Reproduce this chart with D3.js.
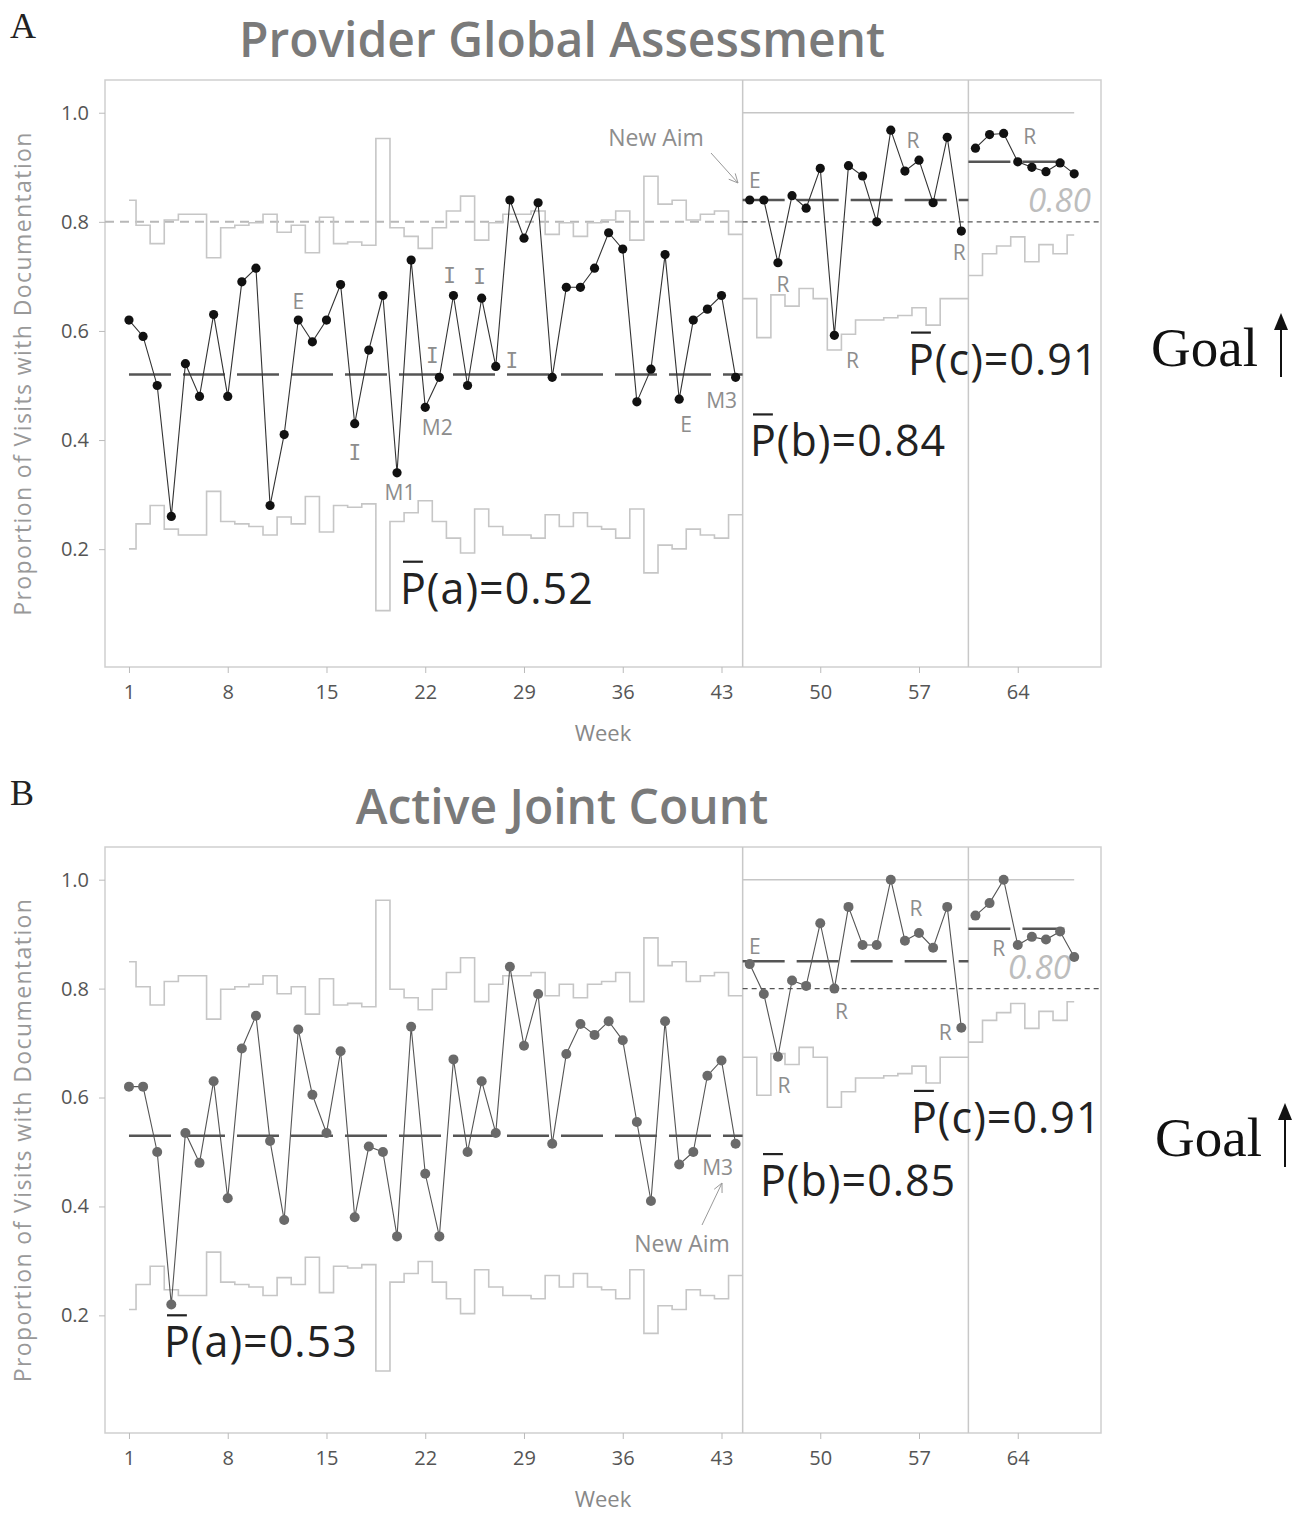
<!DOCTYPE html>
<html>
<head>
<meta charset="utf-8">
<script src="https://cdn.jsdelivr.net/npm/d3@7/dist/d3.min.js"></script>
<style>
  body { margin: 0; background: #fff; }
  svg { display: block; }
  text { font-family: "Open Sans", "Noto Sans", sans-serif; }
</style>
</head>
<body>
<div id="chart"></div>
<script>
// ---- data ----
var weeks = [1,2,3,4,5,6,7,8,9,10,11,12,13,14,15,16,17,18,19,20,21,22,23,24,25,26,27,28,29,30,
  31,32,33,34,35,36,37,38,39,40,41,42,43,44,45,46,47,48,49,50,51,52,53,54,55,56,57,58,59,60,
  61,62,63,64,65,66,67,68];

var phaseNames = ["a", "b", "c"];
var phaseFirstWeek = [1, 45, 61];
var phaseLastWeek = [44, 60, 68];

// visits per week (sample size behind each proportion)
var visits = [22,30,39,28,26,26,49,31,30,29,26,33,30,45,27,39,38,40,12,31,
  35,42,31,25,21,37,29,26,26,25,34,29,35,29,28,25,37,17,23,22,28,26,25,34,
  37,19,40,32,46,37,16,20,25,25,26,27,31,23,37,37,
  17,26,31,39,22,32,26,41];

var pgaValues = [0.62,0.59,0.50,0.26,0.54,0.48,0.63,0.48,0.69,0.715,
  0.28,0.41,0.62,0.58,0.62,0.685,0.43,0.565,0.665,0.34,
  0.73,0.46,0.515,0.665,0.50,0.66,0.535,0.84,0.77,0.835,
  0.515,0.68,0.68,0.715,0.78,0.75,0.47,0.53,0.74,0.475,
  0.62,0.64,0.665,0.515,
  0.84,0.84,0.725,0.848,0.825,0.898,0.592,0.903,0.884,0.80,0.968,0.893,0.913,0.835,0.955,0.783,
  0.935,0.96,0.962,0.91,0.90,0.892,0.908,0.888];

var ajcValues = [0.62,0.62,0.50,0.22,0.535,0.48,0.63,0.415,0.69,0.75,
  0.52,0.375,0.725,0.605,0.535,0.685,0.38,0.51,0.50,0.345,
  0.73,0.46,0.345,0.67,0.50,0.63,0.535,0.84,0.695,0.79,
  0.515,0.68,0.735,0.715,0.74,0.705,0.555,0.41,0.74,0.477,
  0.50,0.64,0.668,0.515,
  0.845,0.79,0.675,0.815,0.805,0.92,0.80,0.95,0.88,0.88,1.0,0.888,0.902,0.875,0.95,0.728,
  0.934,0.957,1.0,0.88,0.895,0.89,0.905,0.858];

var pgaCenter = [0.52, 0.84, 0.91];
var ajcCenter = [0.53, 0.85, 0.91];
var goal = 0.80;

var xTicks = [1, 8, 15, 22, 29, 36, 43, 50, 57, 64];
var yTicks = [0.2, 0.4, 0.6, 0.8, 1.0];

var pgaMarks = [[13,"E"],[17,"I"],[20,"M1"],[22,"M2"],[23,"I"],[24,"I"],[26,"I"],[27,"I"],
  [40,"E"],[44,"M3"],[45,"E"],[47,"R"],[51,"R"],[56,"R"],[60,"R"],[64,"R"]];
var ajcMarks = [[44,"M3"],[45,"E"],[47,"R"],[51,"R"],[56,"R"],[60,"R"],[64,"R"]];

// ---- layout ----
var W = 1303, H = 1518;
var svg = d3.select("#chart").append("svg")
    .attr("width", W)
    .attr("height", H);
svg.append("rect").attr("width", W).attr("height", H).attr("fill", "#fff");

var x = d3.scaleLinear().domain([-0.7, 69.9]).range([105, 1101]);

// pixel offsets of the little letters from their point
var pgaMarkOffsets = [[0,-19],[0,29],[3,20],[12,20],[-7,-22],[-4,-20],[-2,-22],[16,-6],
  [7,25],[-14,23],[5,-20],[5,22],[18,25],[8,-31],[-2,21],[12,-25]];
var ajcMarkOffsets = [[-18,24],[5,-18],[6,29],[7,23],[11,-32],[-16,5],[-19,3]];

function limits(p, n) {
  var h = 3 * Math.sqrt(p * (1 - p) / n);
  return [Math.max(0, p - h), Math.min(1, p + h)];
}

function drawPanel(cfg) {
  var g = svg.append("g");
  var y = d3.scaleLinear().domain([-0.016, 1.06]).range([cfg.bottom, cfg.top]);
  var lastPhase = phaseNames.length - 1;

  // frame
  g.append("rect")
    .attr("x", 105).attr("y", cfg.top)
    .attr("width", 996).attr("height", cfg.bottom - cfg.top)
    .attr("fill", "none").attr("stroke", "#cfcfcf").attr("stroke-width", 1.5);

  // stage dividers
  for (var k = 1; k < phaseNames.length; k++) {
    g.append("line")
      .attr("x1", x(phaseFirstWeek[k] - 0.5)).attr("x2", x(phaseFirstWeek[k] - 0.5))
      .attr("y1", cfg.top).attr("y2", cfg.bottom)
      .attr("stroke", "#c8c8c8").attr("stroke-width", 1.5);
  }

  // axes
  var yAxis = d3.axisLeft(y).tickValues(yTicks).tickFormat(d3.format(".1f"))
    .tickSize(6).tickPadding(10).tickSizeOuter(0);
  var ya = g.append("g").attr("transform", "translate(105,0)").call(yAxis);
  var xAxis = d3.axisBottom(x).tickValues(xTicks).tickSize(6).tickPadding(12).tickSizeOuter(0);
  var xa = g.append("g").attr("transform", "translate(0," + cfg.bottom + ")").call(xAxis);
  [ya, xa].forEach(function(a) {
    a.select(".domain").remove();
    a.selectAll("line").attr("stroke", "#bbb");
    a.selectAll("text").attr("fill", "#555").style("font-size", "20px")
      .style("font-family", "'Open Sans', sans-serif");
  });

  g.append("text")
    .attr("x", 603).attr("y", cfg.bottom + 74)
    .attr("text-anchor", "middle").attr("fill", "#888")
    .style("font-size", "22px").text("Week");
  g.append("text")
    .attr("transform", "translate(31," + ((cfg.top + cfg.bottom) / 2) + ") rotate(-90)")
    .attr("text-anchor", "middle").attr("fill", "#999")
    .style("font-size", "23px").style("letter-spacing", "1.4px")
    .text("Proportion of Visits with Documentation");

  // title + panel letter
  g.append("text")
    .attr("x", 562).attr("y", cfg.top - 23)
    .attr("text-anchor", "middle").attr("fill", "#7a7a7a")
    .style("font-size", "48px").style("font-weight", 600)
    .text(cfg.title);
  g.append("text")
    .attr("x", 10).attr("y", cfg.top - 42)
    .attr("fill", "#222")
    .style("font-family", "'Liberation Serif', serif").style("font-size", "36px")
    .text(cfg.letter);

  // goal line
  if (cfg.goalInStageA) {
    g.append("line")
      .attr("x1", 105).attr("x2", x(phaseFirstWeek[1] - 0.5))
      .attr("y1", y(goal)).attr("y2", y(goal))
      .attr("stroke", "#b8b8b8").attr("stroke-width", 2).attr("stroke-dasharray", "9,6");
  }
  g.append("line")
    .attr("x1", x(phaseFirstWeek[1] - 0.5)).attr("x2", 1101)
    .attr("y1", y(goal)).attr("y2", y(goal))
    .attr("stroke", "#555").attr("stroke-width", 1.2).attr("stroke-dasharray", "5,4");
  g.append("text")
    .attr("x", cfg.goalLabelX).attr("y", y(goal + 0.018))
    .attr("fill", "#bdbdbd").style("font-size", "33px").style("font-style", "italic")
    .text(d3.format(".2f")(goal));

  var line = d3.line().x(function(d) { return x(d[0]); }).y(function(d) { return y(d[1]); });

  phaseNames.forEach(function(name, k) {
    var first = phaseFirstWeek[k], last = phaseLastWeek[k];
    var p = cfg.center[k];
    var lo = [], hi = [];
    for (var w = first; w <= last; w++) {
      var x0 = (w === first && k === 0) ? w : w - 0.5;
      var x1 = (w === last && k === lastPhase) ? w : w + 0.5;
      var lim = limits(p, visits[w - 1]);
      lo.push([x0, lim[0]], [x1, lim[0]]);
      hi.push([x0, lim[1]], [x1, lim[1]]);
    }
    [lo, hi].forEach(function(pts) {
      g.append("path").attr("d", line(pts))
        .attr("fill", "none").attr("stroke", "#c6c6c6").attr("stroke-width", 1.6);
    });

    // center line
    var cx0 = k === 0 ? first : first - 0.5;
    var cx1 = k === lastPhase ? last : last + 0.5;
    g.append("line")
      .attr("x1", x(cx0)).attr("x2", x(cx1))
      .attr("y1", y(p)).attr("y2", y(p))
      .attr("stroke", "#555").attr("stroke-width", 2.5)
      .attr("stroke-dasharray", "42,12");

    // data line + points
    var data = weeks.slice(first - 1, last).map(function(w) { return [w, cfg.values[w - 1]]; });
    g.append("path").attr("d", line(data))
      .attr("fill", "none").attr("stroke", cfg.lineColor).attr("stroke-width", 1.1);
    g.selectAll(null).data(data).enter().append("circle")
      .attr("cx", function(d) { return x(d[0]); })
      .attr("cy", function(d) { return y(d[1]); })
      .attr("r", cfg.r)
      .attr("fill", cfg.pointColor);

    // P-bar label
    var pos = cfg.pbarPos[k];
    var t = g.append("text")
      .attr("x", pos[0]).attr("y", y(pos[1]))
      .attr("fill", "#222").style("font-size", "43px").style("letter-spacing", "1px")
      .text("P(" + name + ")=" + d3.format(".2f")(p));
    var ext = t.node().getExtentOfChar(0);
    g.append("line")
      .attr("x1", ext.x + 3).attr("x2", ext.x + ext.width - 4)
      .attr("y1", y(pos[1]) - 42).attr("y2", y(pos[1]) - 42)
      .attr("stroke", "#222").attr("stroke-width", 2.2);
  });

  // little rule letters
  cfg.marks.forEach(function(m, i) {
    var off = cfg.markOffsets[i];
    g.append("text")
      .attr("x", x(m[0]) + off[0]).attr("y", y(cfg.values[m[0] - 1]) + off[1])
      .attr("dy", "0.36em")
      .attr("text-anchor", "middle").attr("fill", "#8d8d8d")
      .style("font-size", "21px")
      .style("font-family", m[1] === "I" ? "'DejaVu Sans Mono', monospace" : null)
      .text(m[1]);
  });

  // "New Aim" note with an arrow
  var na = cfg.newAim;
  g.append("text")
    .attr("x", na.tx).attr("y", na.ty).attr("dy", "0.36em")
    .attr("text-anchor", "middle").attr("fill", "#8d8d8d")
    .style("font-size", "23px").text("New Aim");
  g.append("line")
    .attr("x1", na.from[0]).attr("y1", na.from[1])
    .attr("x2", na.to[0]).attr("y2", na.to[1])
    .attr("stroke", "#999").attr("stroke-width", 1);
  var ang = Math.atan2(na.to[1] - na.from[1], na.to[0] - na.from[0]);
  [-0.45, 0.45].forEach(function(a) {
    g.append("line")
      .attr("x1", na.to[0]).attr("y1", na.to[1])
      .attr("x2", na.to[0] - 10 * Math.cos(ang + a))
      .attr("y2", na.to[1] - 10 * Math.sin(ang + a))
      .attr("stroke", "#999").attr("stroke-width", 1);
  });

  // Goal with upward arrow
  g.append("text")
    .attr("x", cfg.goalText[0]).attr("y", cfg.goalText[1])
    .attr("fill", "#111")
    .style("font-family", "'Liberation Serif', serif").style("font-size", "55px")
    .text("Goal");
  var ax = cfg.goalText[0] + 130;
  g.append("line")
    .attr("x1", ax).attr("x2", ax)
    .attr("y1", cfg.goalText[1] + 11).attr("y2", cfg.goalText[1] - 38)
    .attr("stroke", "#111").attr("stroke-width", 2);
  g.append("path")
    .attr("d", "M" + ax + "," + (cfg.goalText[1] - 53) +
      "L" + (ax - 7) + "," + (cfg.goalText[1] - 36) +
      "L" + (ax + 7) + "," + (cfg.goalText[1] - 36) + "Z")
    .attr("fill", "#111");
}

drawPanel({
  letter: "A", title: "Provider Global Assessment",
  top: 80, bottom: 667,
  values: pgaValues, center: pgaCenter,
  pointColor: "#111", lineColor: "#333", r: 4.6,
  goalInStageA: true, goalLabelX: 1028,
  pbarPos: [[400, 0.10], [750, 0.37], [908, 0.52]],
  marks: pgaMarks, markOffsets: pgaMarkOffsets,
  newAim: { tx: 656, ty: 138, from: [711, 153], to: [738, 183] },
  goalText: [1151, 366]
});

drawPanel({
  letter: "B", title: "Active Joint Count",
  top: 847, bottom: 1433,
  values: ajcValues, center: ajcCenter,
  pointColor: "#6a6a6a", lineColor: "#555", r: 5,
  goalInStageA: false, goalLabelX: 1008,
  pbarPos: [[164, 0.123], [760, 0.419], [911, 0.535]],
  marks: ajcMarks, markOffsets: ajcMarkOffsets,
  newAim: { tx: 682, ty: 1244, from: [702, 1225], to: [722, 1183] },
  goalText: [1155, 1156]
});
</script>
</body>
</html>
